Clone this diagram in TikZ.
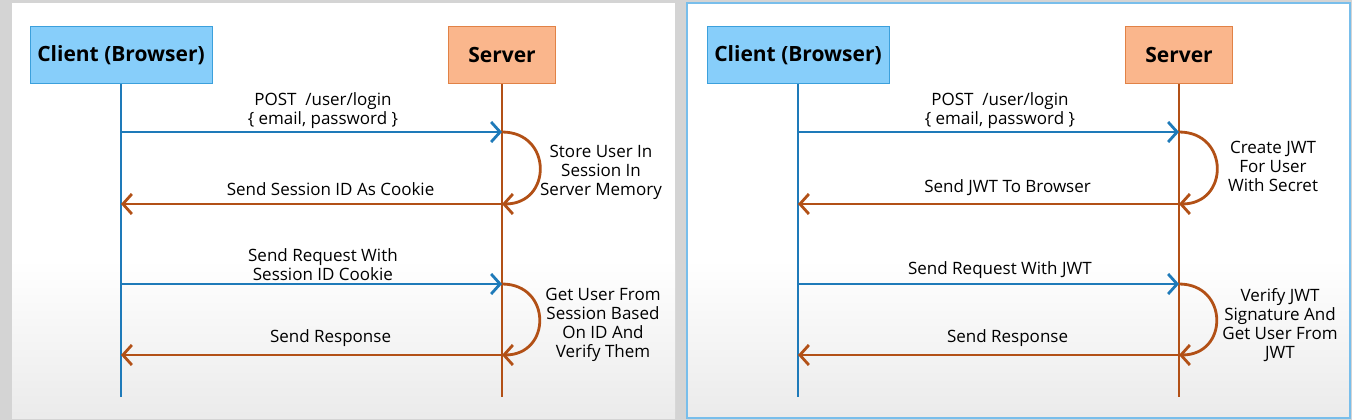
\documentclass[tikz,border=0pt]{standalone}
\usepackage{fontspec}
\setmainfont{Open Sans}
\usetikzlibrary{arrows.meta, positioning}

\definecolor{cliblue}{RGB}{135,206,250}
\definecolor{cliedge}{RGB}{60,160,220}
\definecolor{reqblue}{RGB}{30,122,185}
\definecolor{srvfill}{RGB}{250,182,140}
\definecolor{srvedge}{RGB}{225,130,70}
\definecolor{resbrown}{RGB}{178,80,22}
\definecolor{bggray}{RGB}{212,212,212}
\definecolor{frameblue}{RGB}{120,190,235}

\begin{document}
\begin{tikzpicture}[x=1pt, y=-1pt, >={Straight Barb[length=9pt,width=20pt]},
    node distance=381pt, every node/.style={font=\fontsize{17}{19}\selectfont,
    align=center, inner sep=1pt}]

  \tikzstyle{client}=[draw=cliedge, fill=cliblue, line width=1pt, minimum width=182pt,
    minimum height=57pt, font=\fontsize{21}{22}\selectfont\bfseries]
  \tikzstyle{server}=[draw=srvedge, fill=srvfill, line width=1pt, minimum width=107pt,
    minimum height=57pt, font=\fontsize{21}{22}\selectfont\bfseries]
  \tikzstyle{cliline}=[draw=reqblue, line width=1.6pt]
  \tikzstyle{srvline}=[draw=resbrown, line width=1.3pt]
  \tikzstyle{req}=[->, draw=reqblue, line width=2.8pt]
  \tikzstyle{resp}=[->, draw=resbrown, line width=2.8pt]
  \tikzstyle{proc}=[->, draw=resbrown, line width=2.8pt, out=0, in=0, looseness=1.8]

  \fill[bggray] (0,0) rectangle (1352,420);
  \fill[white] (12,3) rectangle (675,260);
  \shade[top color=white, bottom color=gray!16] (12,260) rectangle (675,418);
  \fill[white] (687,3) rectangle (1350,260);
  \shade[top color=white, bottom color=gray!16] (687,260) rectangle (1350,418);
  \draw[frameblue, line width=1.8pt] (687,3) rectangle (1350,418);

  \node[client] (cliA) at (121,55) {Client (Browser)};
  \node[server, right of=cliA] (srvA) {Server};
  \node[client] (cliB) at (798,55) {Client (Browser)};
  \node[server, right of=cliB] (srvB) {Server};

  \coordinate (cA0) at (cliA |- 0,397);
  \coordinate (sA0) at (srvA |- 0,397);
  \coordinate (cB0) at (cliB |- 0,397);
  \coordinate (sB0) at (srvB |- 0,397);
  \draw[cliline] (cliA) -- (cA0);
  \draw[srvline] (srvA) -- (sA0);
  \draw[cliline] (cliB) -- (cB0);
  \draw[srvline] (srvB) -- (sB0);

  \coordinate (cA1) at (cliA |- 0,132); \coordinate (sA1) at (srvA |- 0,132);
  \coordinate (cA2) at (cliA |- 0,204); \coordinate (sA2) at (srvA |- 0,204);
  \coordinate (cA3) at (cliA |- 0,284); \coordinate (sA3) at (srvA |- 0,284);
  \coordinate (cA4) at (cliA |- 0,355); \coordinate (sA4) at (srvA |- 0,355);
  \coordinate (cB1) at (cliB |- 0,132); \coordinate (sB1) at (srvB |- 0,132);
  \coordinate (cB2) at (cliB |- 0,204); \coordinate (sB2) at (srvB |- 0,204);
  \coordinate (cB3) at (cliB |- 0,284); \coordinate (sB3) at (srvB |- 0,284);
  \coordinate (cB4) at (cliB |- 0,355); \coordinate (sB4) at (srvB |- 0,355);

  \path
  (cA1) edge[req] node[pos=0.53, above=1pt] {POST\ \ /user/login\\\{ email, password \}} (sA1)
  (sA1) edge[proc] (sA2)
  (sA2) edge[resp] node[pos=0.45, above=6pt] {Send Session ID As Cookie} (cA2)
  (cA3) edge[req] node[pos=0.53, above=1pt] {Send Request With\\Session ID Cookie} (sA3)
  (sA3) edge[proc] (sA4)
  (sA4) edge[resp] node[pos=0.45, above=6pt] {Send Response} (cA4);

  \path
  (cB1) edge[req] node[pos=0.53, above=1pt] {POST\ \ /user/login\\\{ email, password \}} (sB1)
  (sB1) edge[proc] (sB2)
  (sB2) edge[resp] node[pos=0.45, above=6pt] {Send JWT To Browser} (cB2)
  (cB3) edge[req] node[pos=0.53, above=3pt] {Send Request With JWT} (sB3)
  (sB3) edge[proc] (sB4)
  (sB4) edge[resp] node[pos=0.45, above=6pt] {Send Response} (cB4);

  \node (noteA1) at (601,172) {Store User In\\Session In\\Server Memory};
  \node (noteA2) at (603,325) {Get User From\\Session Based\\On ID And\\Verify Them};
  \node (noteB1) at (1273,166) {Create JWT\\For User\\With Secret};
  \node (noteB2) at (1280,325) {Verify JWT\\Signature And\\Get User From\\JWT};
\end{tikzpicture}
\end{document}
